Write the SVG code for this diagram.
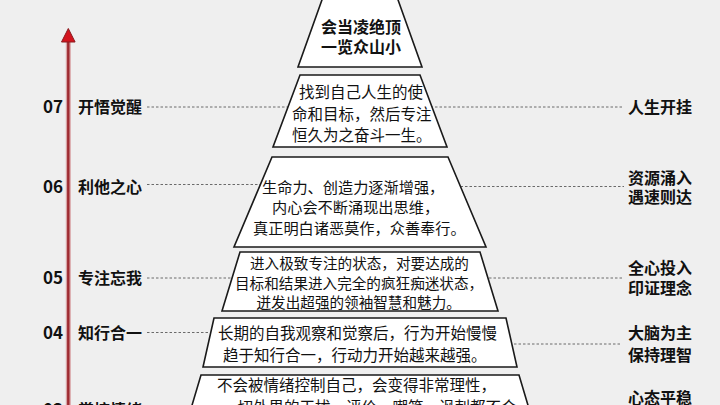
<svg xmlns="http://www.w3.org/2000/svg" width="720" height="405" viewBox="0 0 720 405">
<style>
.bg{fill:#efefef}
.trap{fill:#ffffff;stroke:#1a1a1a;stroke-width:1.6;stroke-linejoin:miter}
.t{font-family:"Noto Sans CJK SC","Microsoft YaHei",sans-serif;fill:#111}
.body{font-size:15.5px}
.b{font-weight:bold;font-size:16px}
.num{font-family:"Noto Sans CJK SC","Liberation Sans",sans-serif;font-weight:bold;font-size:17px;fill:#111}
.dash{stroke:#6a6a6a;stroke-width:1;stroke-dasharray:2.5 2;fill:none}
</style>
<rect class="bg" x="0" y="0" width="720" height="405"/>

<g id="axis">
<line x1="68.3" y1="40" x2="68.3" y2="410" stroke="#d8a3a5" stroke-width="5"/>
<line x1="68.3" y1="40" x2="68.3" y2="410" stroke="#9e2a30" stroke-width="2.4"/>
<polygon points="68.3,28.5 61.5,42 75.1,42" fill="#d3141e" stroke="#8a1a1f" stroke-width="1"/>
</g>

<g id="connectors">
<line class="dash" x1="147" y1="107" x2="622" y2="107"/>
<line class="dash" x1="147" y1="184.5" x2="300" y2="184.5"/>
<line class="dash" x1="420" y1="186.5" x2="624" y2="186.5"/>
<line class="dash" x1="147" y1="278" x2="622" y2="278"/>
<line class="dash" x1="147" y1="332.5" x2="260" y2="332.5"/>
<line class="dash" x1="460" y1="344" x2="622" y2="344"/>
</g>

<g id="level-peak">
<polygon class="trap" points="323,-3 397,-3 422,67 298,67"/>
<text class="t b" x="361" y="33" text-anchor="middle">会当凌绝顶</text>
<text class="t b" x="361" y="53" text-anchor="middle">一览众山小</text>
</g>

<g id="level-07">
<polygon class="trap" points="300,75 420,75 447,147 273,147"/>
<text class="t body" x="299" y="98">找到自己人生的使</text>
<text class="t body" x="292" y="119.5">命和目标，然后专注</text>
<text class="t body" x="292" y="141">恒久为之奋斗一生。</text>
<text class="num" x="43" y="113">07</text>
<text class="t b" x="78" y="113">开悟觉醒</text>
<text class="t b" x="628" y="113">人生开挂</text>
</g>

<g id="level-06">
<polygon class="trap" points="272,157 448,157 486,247 234,247"/>
<text class="t" style="font-size:15.2px" x="262" y="192.5">生命力、创造力逐渐增强，</text>
<text class="t" style="font-size:15.2px" x="272" y="213">内心会不断涌现出思维，</text>
<text class="t" style="font-size:15.2px" x="253" y="234">真正明白诸恶莫作，众善奉行。</text>
<text class="num" x="43" y="193">06</text>
<text class="t b" x="78" y="193">利他之心</text>
<text class="t b" x="628" y="184">资源涌入</text>
<text class="t b" x="628" y="203">遇速则达</text>
</g>

<g id="level-05">
<polygon class="trap" points="240,252 480,252 498,311 222,311"/>
<text class="t" style="font-size:14.6px" x="250" y="269">进入极致专注的状态，对要达成的</text>
<text class="t" style="font-size:14.6px" x="235" y="289">目标和结果进入完全的疯狂痴迷状态，</text>
<text class="t" style="font-size:14.6px" x="256.5" y="307.5">迸发出超强的领袖智慧和魅力。</text>
<text class="num" x="43" y="284">05</text>
<text class="t b" x="78" y="284">专注忘我</text>
<text class="t b" x="628" y="274">全心投入</text>
<text class="t b" x="628" y="294">印证理念</text>
</g>

<g id="level-04">
<polygon class="trap" points="214,318 506,318 517,367 203,367"/>
<text class="t body" x="218" y="339">长期的自我观察和觉察后，行为开始慢慢</text>
<text class="t body" x="223" y="361">趋于知行合一，行动力开始越来越强。</text>
<text class="num" x="43" y="339">04</text>
<text class="t b" x="78" y="339">知行合一</text>
<text class="t b" x="628" y="339">大脑为主</text>
<text class="t b" x="628" y="361">保持理智</text>
</g>

<g id="level-03">
<polygon class="trap" points="201,375 519,375 530,412 190,412"/>
<text class="t body" x="217" y="391">不会被情绪控制自己，会变得非常理性，</text>
<text class="t body" x="222" y="412.5">一切外界的干扰、评价、嘲笑、讽刺都不会</text>
<text class="num" x="43" y="416">03</text>
<text class="t b" x="78" y="416">掌控情绪</text>
<text class="t b" x="628" y="404">心态平稳</text>
</g>
</svg>
